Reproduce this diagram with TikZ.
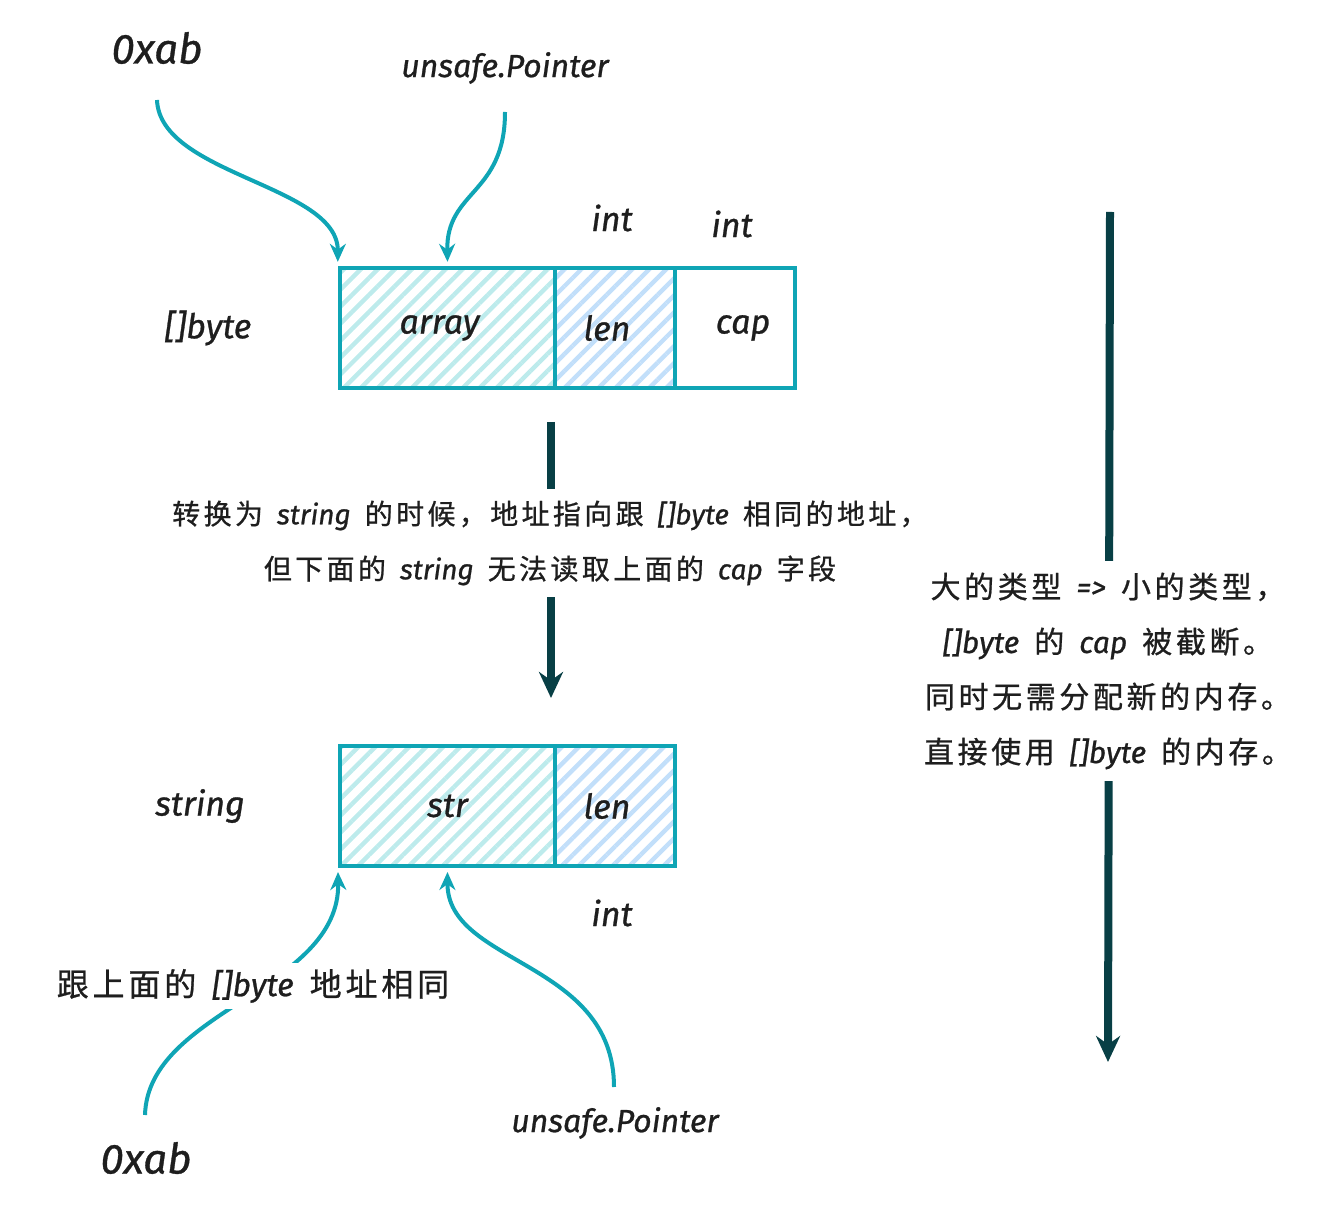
\documentclass[tikz,border=0pt]{standalone}
\usepackage{fontspec}
\setmainfont{Fira Sans}[ItalicFeatures={FakeBold=0.8}]
\newfontfamily\cjk[LetterSpace=12,FakeBold=0.8]{Noto Sans CJK SC}
\newcommand{\zh}[1]{{\cjk\upshape #1}}
\newcommand{\widesp}{\spaceskip=0.5em\relax}
\usepackage{xcolor}
\definecolor{t1}{HTML}{0FA5B5}
\definecolor{d1}{HTML}{083F45}
\definecolor{h1}{HTML}{BDEBEC}
\definecolor{h2}{HTML}{C2DFFA}
\definecolor{k1}{HTML}{1E1E1E}
\usetikzlibrary{arrows.meta,patterns.meta}
\tikzset{
  cell/.style={draw=t1,line width=2pt,minimum height=60pt,inner sep=0pt,text=k1,
    font=\fontsize{17pt}{20pt}\selectfont\itshape},
  hatchA/.style={pattern={Lines[angle=45,distance=6pt,line width=2.2pt]},pattern color=h1},
  hatchB/.style={pattern={Lines[angle=45,distance=6pt,line width=2.2pt]},pattern color=h2},
  lbl/.style={text=k1,font=\fontsize{17pt}{20pt}\selectfont\itshape},
  note/.style={text=k1,fill=white,align=center,inner sep=6pt,
    font=\fontsize{14pt}{27.5pt}\selectfont\itshape\widesp},
  ptr/.style={draw=t1,line width=2pt,-{Stealth[length=9pt,width=8pt]}},
  flow/.style={draw=d1,line width=4pt,-{Stealth[length=13pt,width=12pt]}},
}

\begin{document}
\begin{tikzpicture}[x=0.5pt,y=-0.5pt]
  \useasboundingbox (0,0) rectangle (1344,1224);

  % []byte header
  \node[lbl] (bt) at (208,328) {[]byte};
  \node[cell,hatchA,minimum width=107.5pt] (arr) at (447.5,328) {\hspace{-8pt}array};
  \node[cell,hatchB,minimum width=60pt] (len1) at (615,328) {\hspace{-8pt}len};
  \node[cell,minimum width=60pt] (cap) at (735,328) {\hspace{8pt}cap};
  \node[lbl] (int1) at (612,218) {int};
  \node[lbl] (int2) at (732,224) {int};

  \node[lbl,font=\fontsize{21pt}{24pt}\selectfont\itshape] (o1) at (157,48) {0xab};
  \node[lbl,font=\fontsize{16pt}{20pt}\selectfont\itshape] (p1) at (505,68) {unsafe.Pointer};
  \coordinate (s1) at (157,100);
  \coordinate (s2) at (505,112);
  \draw[ptr] (s1) .. controls (160,175) and (338,185) .. ([yshift=2pt]arr.north west);
  \draw[ptr] (s2) .. controls (505,195) and (446,190) .. ([yshift=2pt]arr.north);

  % string header
  \node[lbl] (st) at (200,806) {string};
  \node[cell,hatchA,minimum width=107.5pt] (str) at (447.5,806) {str};
  \node[cell,hatchB,minimum width=60pt] (len2) at (615,806) {\hspace{-8pt}len};
  \node[lbl] (int3) at (612,913) {int};

  \node[lbl,font=\fontsize{21pt}{24pt}\selectfont\itshape] (o2) at (146,1158) {0xab};
  \node[lbl,font=\fontsize{16pt}{20pt}\selectfont\itshape] (p2) at (615,1123) {unsafe.Pointer};
  \coordinate (s3) at (145,1115);
  \coordinate (s4) at (614,1087);
  \draw[ptr] (s3) .. controls (148,1010) and (340,990) .. ([yshift=-2pt]str.south west);
  \draw[ptr] (s4) .. controls (614,960) and (447,965) .. ([yshift=-2pt]str.south);
  \node[note,font=\fontsize{16pt}{20pt}\selectfont\itshape\widesp,inner sep=3pt] (same) at (253,986)
    {\zh{跟上面的} []byte \zh{地址相同}};

  % conversion
  \coordinate (m1) at (551,422);
  \coordinate (m2) at (551,698);
  \draw[flow] (m1) -- (m2);
  \node[note] (conv) at (550,543)
    {\zh{转换为} string \zh{的时候，地址指向跟} []byte \zh{相同的地址，}\\
     \zh{但下面的} string \zh{无法读取上面的} cap \zh{字段}};

  % big => small
  \coordinate (r1) at (1110,212);
  \coordinate (r2) at (1108,1062);
  \draw[flow] (r1) -- (r2);
  \node[note,font=\fontsize{15pt}{27.5pt}\selectfont\itshape\widesp] (trunc) at (1108,671)
    {\zh{大的类型} => \zh{小的类型，}\\
     {}[]byte \zh{的} cap \zh{被截断。}\\
     \zh{同时无需分配新的内存。}\\
     \zh{直接使用} []byte \zh{的内存。}};
\end{tikzpicture}
\end{document}
